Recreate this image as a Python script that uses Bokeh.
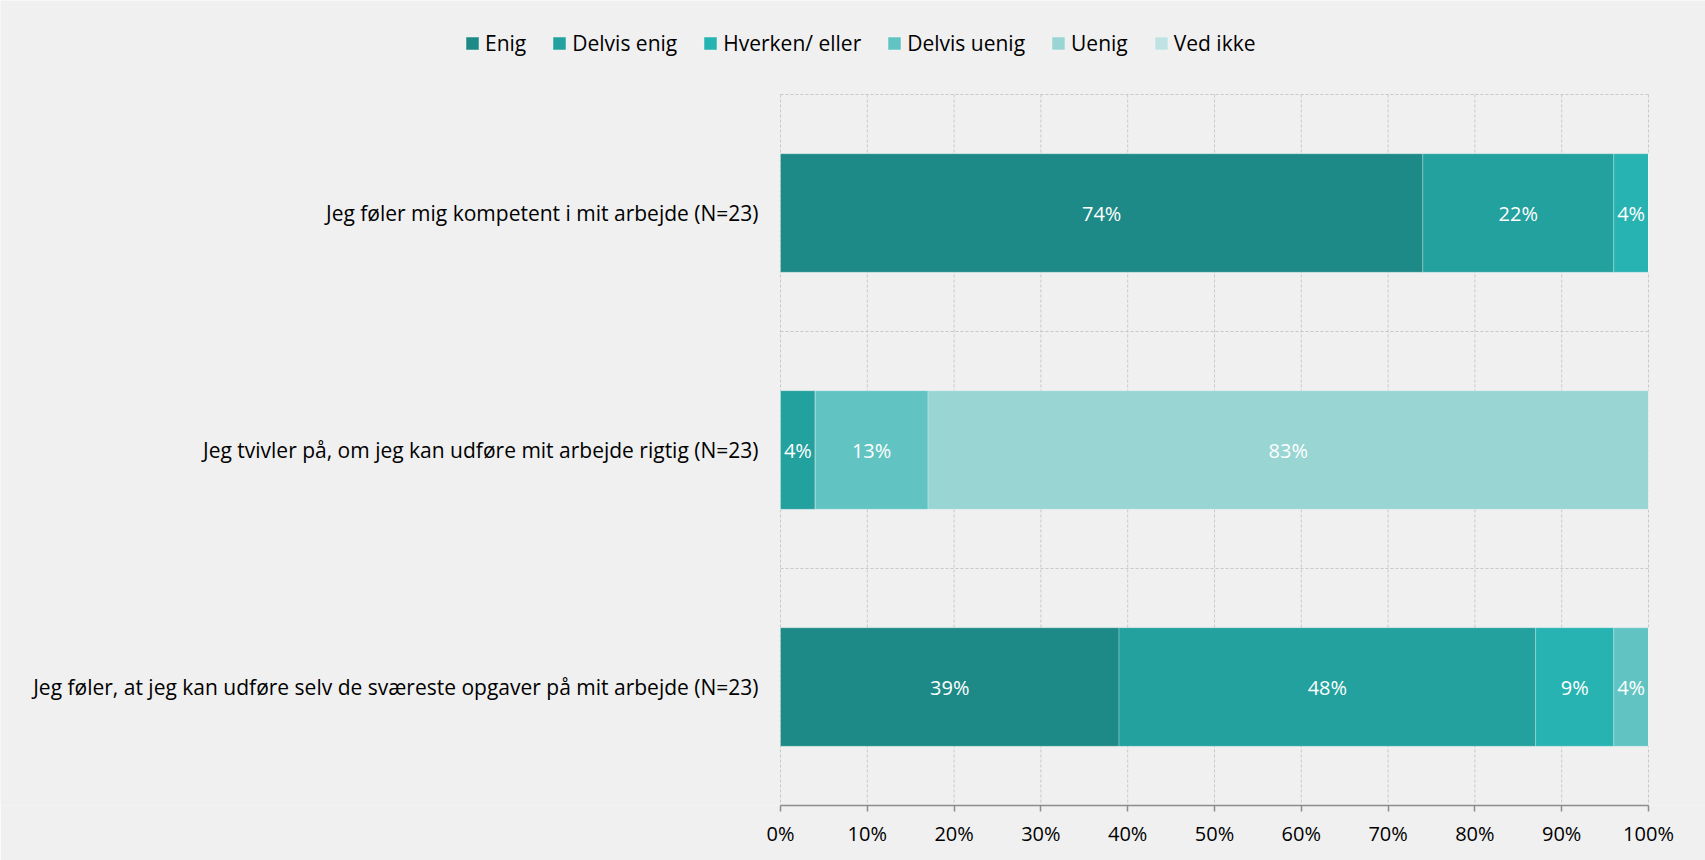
import numpy as np
from bokeh.plotting import figure
from bokeh.models import (Range1d, FixedTicker, NumeralTickFormatter, Legend, LegendItem,
                          ColumnDataSource, LinearAxis)
from bokeh.core.properties import value
from bokeh.embed import file_html
from bokeh.resources import INLINE

categories = [
    "Jeg føler mig kompetent i mit arbejde (N=23)",
    "Jeg tvivler på, om jeg kan udføre mit arbejde rigtig (N=23)",
    "Jeg føler, at jeg kan udføre selv de sværeste opgaver på mit arbejde (N=23)",
]
series_names = ["Enig", "Delvis enig", "Hverken/ eller", "Delvis uenig", "Uenig", "Ved ikke"]
enig = [74, 0, 39]
delvis_enig = [22, 4, 48]
hverken = [4, 0, 9]
delvis_uenig = [0, 13, 4]
uenig = [0, 83, 0]
ved_ikke = [0, 0, 0]
colors = ["#1D8A87", "#22A19E", "#27B3B1", "#62C4C2", "#98D5D3", "#BEE3E2"]
x_ticks = [0, 10, 20, 30, 40, 50, 60, 70, 80, 90, 100]

FONT = "Open Sans"
FS = "20px"
FS_CAT = "21px"
FS_LEG = "21px"
BG = "#F0F0F0"
GRID = "#C8C8C8"

series = [enig, delvis_enig, hverken, delvis_uenig, uenig, ved_ikke]
keys = [f"s{i}" for i in range(len(series))]
ypos = list(range(len(categories)))
n = len(categories)

data = {"y": ypos}
for k, s in zip(keys, series):
    data[k] = [v / 100 for v in s]
src = ColumnDataSource(data)

# pixel layout
W, H = 1705, 860
PL, PR, PT, PB = 780, 1648, 94, 805      # plot area (0%..100%, top..axis)
pw = PR - PL
band = (PB - PT) / n

x_start = -PL / pw
x_end = 1 + (W - PR) / pw
y_top = -0.5 - PT / band
y_bot = n - 0.5

p = figure(width=W, height=H, output_backend="svg", toolbar_location=None,
           x_range=Range1d(x_start, x_end), y_range=Range1d(y_bot, y_top),
           x_axis_location=None, y_axis_location=None,
           background_fill_color=BG, border_fill_color=BG, outline_line_color=None,
           min_border_left=0, min_border_right=0, min_border_top=0, min_border_bottom=H - PB)
p.xgrid.visible = False
p.ygrid.visible = False

# grid lines (dashed), restricted to plot area
gx = [t / 100 for t in x_ticks]
p.segment(x0=gx, x1=gx, y0=[-0.5] * len(gx), y1=[y_bot] * len(gx),
          line_color=GRID, line_dash="3 2", line_width=1)
gy = [i - 0.5 for i in range(n)]
p.segment(x0=[0] * len(gy), x1=[1] * len(gy), y0=gy, y1=gy,
          line_color=GRID, line_dash="3 2", line_width=1)

renderers = p.hbar_stack(keys, y="y", height=0.5, color=colors, source=src,
                         line_color="white", line_alpha=0.25, line_width=1)

# data labels
lx, ly, lt = [], [], []
for i in range(n):
    cum = 0.0
    for s in series:
        v = s[i]
        if v > 0:
            lx.append((cum + v / 2) / 100)
            ly.append(i)
            lt.append(f"{v}%")
        cum += v
p.text(x=lx, y=ly, text=lt, text_color="white", text_font=value(FONT),
       text_font_size=FS, text_align="center", text_baseline="middle")

# category labels
p.text(x=[-22 / pw] * n, y=ypos, text=categories, text_color="#000000",
       text_font=value(FONT), text_font_size=FS_CAT, text_align="right", text_baseline="middle")

# x axis
xa = LinearAxis(ticker=FixedTicker(ticks=gx), formatter=NumeralTickFormatter(format="0%"),
                bounds=(0, 1))
xa.axis_line_color = "#8C8C8C"
xa.axis_line_width = 1.5
xa.major_tick_line_color = "#8C8C8C"
xa.major_tick_line_width = 1.5
xa.major_tick_in = 0
xa.major_tick_out = 6
xa.minor_tick_line_color = None
xa.major_label_text_font = FONT
xa.major_label_text_font_size = FS
xa.major_label_text_color = "#000000"
xa.major_label_standoff = 8
p.add_layout(xa, "below")

# legend
items = [LegendItem(label=nm, renderers=[r]) for nm, r in zip(series_names, renderers)]
legend = Legend(items=items, orientation="horizontal", location=(464, PB - 57),
                label_text_font=FONT, label_text_font_size=FS_LEG, label_text_color="#000000",
                glyph_width=16, glyph_height=16, label_standoff=5, spacing=25,
                background_fill_alpha=0, border_line_color=None, padding=0, margin=0)
p.add_layout(legend, "center")

html = file_html(p, INLINE)
html = html.replace("<body>", f'<body style="background:{BG}">', 1)
open("out.html", "w").write(html)
